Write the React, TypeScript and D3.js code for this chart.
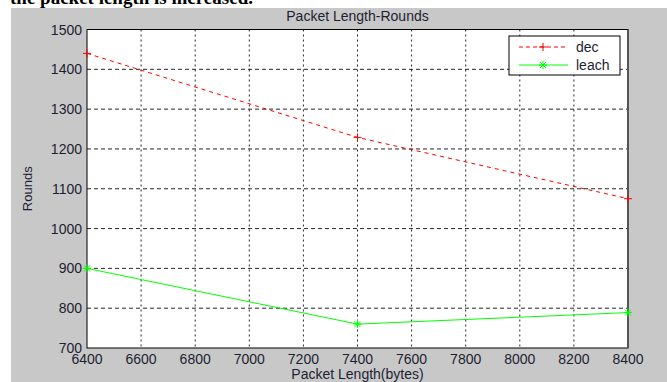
import React from 'react';
import * as d3 from 'd3';

const width = 667, height = 382,
    margin = { top: 29.5, right: 39, left: 87, bottom: 34 };

// packet length (bytes) on x
const packetLengths = [6400, 7400, 8400];
// rounds for each protocol
const decRounds = [1440, 1229, 1075];
const leachRounds = [900, 760, 789];

const xTicks = [6400, 6600, 6800, 7000, 7200, 7400, 7600, 7800, 8000, 8200, 8400];
const yTicks = [700, 800, 900, 1000, 1100, 1200, 1300, 1400, 1500];

const font = '"Liberation Sans", Arial, sans-serif';
const textColor = '#1e1e32';

export default function App() {
    const xScale = d3.scaleLinear().domain([6400, 8400]).range([margin.left, width - margin.right]);
    const yScale = d3.scaleLinear().domain([700, 1500]).range([height - margin.bottom, margin.top]);

    const line = d3.line<number>()
        .x((_, i) => xScale(packetLengths[i]))
        .y(d => yScale(d));

    const x0 = xScale.range()[0], x1 = xScale.range()[1];
    const y0 = yScale.range()[0], y1 = yScale.range()[1];

    // legend position
    const lg = { x: 509, y: 36, w: 111, h: 39 };

    return (
        <svg width={width} height={height} style={{ position: 'absolute', left: 0, top: 0 }}>
            <rect x={0} y={0} width={width} height={height} fill="#ffffff" />
            <text x={10} y={4} fontFamily='"Liberation Serif", "Times New Roman", serif' fontWeight="bold" fontSize={19} fill="#000">the packet length is increased.</text>
            <rect x={11} y={8} width={width - 11} height={height - 8} fill="#c8c8c8" />
            <rect x={x0} y={y1} width={x1 - x0} height={y0 - y1} fill="#ffffff" />

            {/* grid */}
            {xTicks.slice(1, -1).map(t => (
                <line key={'gx' + t} x1={xScale(t)} x2={xScale(t)} y1={y1} y2={y0}
                    stroke="#000" strokeWidth={1} strokeDasharray="2,3" opacity={0.85} />
            ))}
            {yTicks.slice(1, -1).map(t => (
                <line key={'gy' + t} x1={x0} x2={x1} y1={yScale(t)} y2={yScale(t)}
                    stroke="#000" strokeWidth={1} strokeDasharray="4,3" opacity={0.85} />
            ))}

            {/* frame */}
            <rect x={x0} y={y1} width={x1 - x0} height={y0 - y1} fill="none" stroke="#000" strokeWidth={1} />
            <line x1={x1} x2={x1} y1={y1} y2={y0} stroke="#555" strokeWidth={2} />

            {/* series */}
            <path d={line(decRounds) || ''} fill="none" stroke="#ff0000" strokeWidth={1} strokeDasharray="4,4" />
            <path d={line(leachRounds) || ''} fill="none" stroke="#00ff00" strokeWidth={1} />
            {decRounds.map((v, i) => {
                const cx = xScale(packetLengths[i]), cy = yScale(v);
                return <path key={'dm' + i} d={`M${cx - 4},${cy}H${cx + 4}M${cx},${cy - 4}V${cy + 4}`} stroke="#ff0000" strokeWidth={1} />;
            })}
            {leachRounds.map((v, i) => {
                const cx = xScale(packetLengths[i]), cy = yScale(v);
                return <path key={'lm' + i} d={`M${cx - 4},${cy}H${cx + 4}M${cx},${cy - 4}V${cy + 4}M${cx - 3},${cy - 3}L${cx + 3},${cy + 3}M${cx - 3},${cy + 3}L${cx + 3},${cy - 3}`} stroke="#00ff00" strokeWidth={1} />;
            })}

            {/* y tick labels */}
            {yTicks.map(t => (
                <text key={'yl' + t} x={x0 - 5} y={yScale(t) + 5} textAnchor="end" fontFamily={font} fontSize={14} fill={textColor}>{t}</text>
            ))}
            {/* x tick labels */}
            {xTicks.map(t => (
                <text key={'xl' + t} x={xScale(t)} y={y0 + 16} textAnchor="middle" fontFamily={font} fontSize={14} fill={textColor}>{t}</text>
            ))}

            <text x={(x0 + x1) / 2} y={21} textAnchor="middle" fontFamily={font} fontSize={14} fill={textColor}>Packet Length-Rounds</text>
            <text x={(x0 + x1) / 2} y={y0 + 31} textAnchor="middle" fontFamily={font} fontSize={14} fill={textColor}>Packet Length(bytes)</text>
            <text transform={`translate(32, ${(y0 + y1) / 2}) rotate(-90)`} textAnchor="middle" fontFamily={font} fontSize={13} fill={textColor}>Rounds</text>

            {/* legend */}
            <rect x={lg.x} y={lg.y} width={lg.w} height={lg.h} fill="#fff" stroke="#000" strokeWidth={1} />
            <line x1={lg.x + 10} x2={lg.x + 59} y1={lg.y + 11} y2={lg.y + 11} stroke="#ff0000" strokeDasharray="4,3" />
            <path d={`M${lg.x + 30},${lg.y + 11}H${lg.x + 38}M${lg.x + 34},${lg.y + 7}V${lg.y + 15}`} stroke="#ff0000" />
            <text x={lg.x + 67} y={lg.y + 16} fontFamily={font} fontSize={14} fill={textColor}>dec</text>
            <line x1={lg.x + 10} x2={lg.x + 59} y1={lg.y + 29} y2={lg.y + 29} stroke="#00ff00" />
            <path d={`M${lg.x + 30},${lg.y + 29}H${lg.x + 38}M${lg.x + 34},${lg.y + 25}V${lg.y + 33}M${lg.x + 31},${lg.y + 26}L${lg.x + 37},${lg.y + 32}M${lg.x + 31},${lg.y + 32}L${lg.x + 37},${lg.y + 26}`} stroke="#00ff00" />
            <text x={lg.x + 67} y={lg.y + 34} fontFamily={font} fontSize={14} fill={textColor}>leach</text>
        </svg>
    );
}
